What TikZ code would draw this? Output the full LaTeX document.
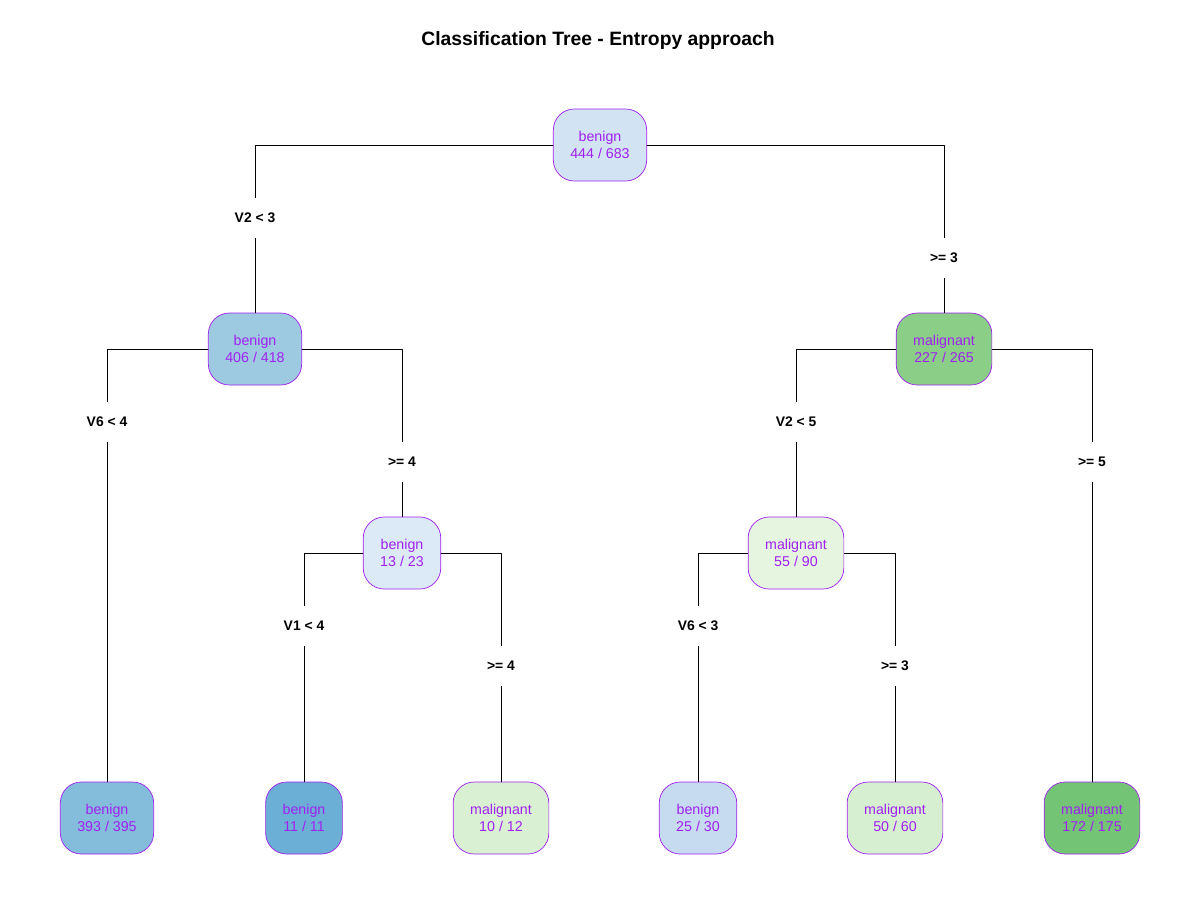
\documentclass[tikz,border=0pt]{standalone}
\usepackage{fontspec}
\setmainfont{Liberation Sans}
\definecolor{nodeline}{HTML}{A020F0}
\definecolor{bRoot}{HTML}{D2E3F3}
\definecolor{bMid}{HTML}{9ECAE1}
\definecolor{bSmall}{HTML}{DCE9F6}
\definecolor{bLeafA}{HTML}{84BCDB}
\definecolor{bLeafB}{HTML}{6BAED6}
\definecolor{bLeafC}{HTML}{C6DBEF}
\definecolor{mMid}{HTML}{8BCE88}
\definecolor{mSmall}{HTML}{E5F5E0}
\definecolor{mLeafA}{HTML}{D9F0D3}
\definecolor{mLeafB}{HTML}{D7EFD1}
\definecolor{mLeafC}{HTML}{74C476}
\tikzset{
  tnode/.style={draw=nodeline, rounded corners=0.42cm, align=center, text=nodeline,
    minimum height=1.44cm, inner xsep=0.34cm, font=\fontsize{8.1}{9.8}\selectfont},
  split/.style={fill=white, inner xsep=1pt, minimum height=0.8cm, font=\bfseries\fontsize{7.9}{9}\selectfont}
}
\begin{document}
\begin{tikzpicture}[x=0.02cm, y=-0.02cm, line join=round, line cap=round]
  \useasboundingbox (0,0) rectangle (1200,900);
  \node[font=\bfseries\fontsize{11}{13}\selectfont] (title) at (598,40) {Classification Tree - Entropy approach};
  % tree nodes
  \node[tnode, fill=bRoot] (root) at (600,145) {benign\\444 / 683};
  \node[tnode, fill=bMid] (l) at (255,349) {benign\\406 / 418};
  \node[tnode, fill=mMid] (r) at (944,349) {malignant\\227 / 265};
  \node[tnode, fill=bSmall] (lr) at (402,553) {benign\\13 / 23};
  \node[tnode, fill=mSmall] (rl) at (796,553) {malignant\\55 / 90};
  \node[tnode, fill=bLeafA] (ll) at (107,818) {benign\\393 / 395};
  \node[tnode, fill=bLeafB] (lrl) at (304,818) {benign\\11 / 11};
  \node[tnode, fill=mLeafA] (lrr) at (501,818) {malignant\\10 / 12};
  \node[tnode, fill=bLeafC] (rll) at (698,818) {benign\\25 / 30};
  \node[tnode, fill=mLeafB] (rlr) at (895,818) {malignant\\50 / 60};
  \node[tnode, fill=mLeafC] (rr) at (1092,818) {malignant\\172 / 175};
  % connectors
  \foreach \p/\c/\side in {root/l/west, root/r/east, l/ll/west, l/lr/east,
      lr/lrl/west, lr/lrr/east, r/rl/west, r/rr/east, rl/rll/west, rl/rlr/east}
    \draw (\p.\side) -| (\c.north);
  % split labels
  \node[split] (s1) at (255,218) {V2 < 3};
  \node[split] (s2) at (944,258) {>= 3};
  \node[split] (s3) at (107,422) {V6 < 4};
  \node[split] (s4) at (402,462) {>= 4};
  \node[split] (s5) at (796,422) {V2 < 5};
  \node[split] (s6) at (1092,462) {>= 5};
  \node[split] (s7) at (304,626) {V1 < 4};
  \node[split] (s8) at (501,666) {>= 4};
  \node[split] (s9) at (698,626) {V6 < 3};
  \node[split] (s10) at (895,666) {>= 3};
\end{tikzpicture}
\end{document}
